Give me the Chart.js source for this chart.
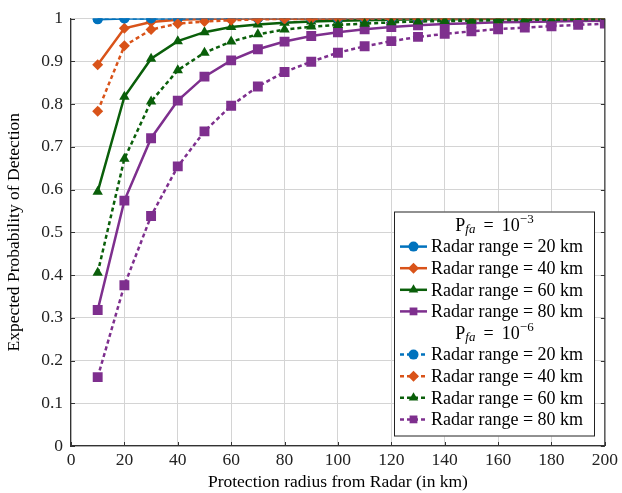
<!DOCTYPE html>
<html>
<head>
<meta charset="utf-8">
<script src="https://cdn.jsdelivr.net/npm/chart.js@4"></script>
<style>
  html, body { margin: 0; padding: 0; background: #fff; }
  #wrap { width: 622px; height: 493px; }
</style>
</head>
<body>
<div id="wrap"><canvas id="chart"></canvas></div>
<script>
// Protection radius (km)
const radius = [10, 20, 30, 40, 50, 60, 70, 80, 90, 100, 110, 120, 130, 140, 150, 160, 170, 180, 190, 200];

// Pfa = 1e-3
const pfa3Range20 = [0.998, 1, 1, 1, 1, 1, 1, 1, 1, 1, 1, 1, 1, 1, 1, 1, 1, 1, 1, 1];
const pfa3Range40 = [0.892, 0.977, 0.992, 0.997, 0.999, 1, 1, 1, 1, 1, 1, 1, 1, 1, 1, 1, 1, 1, 1, 1];
const pfa3Range60 = [0.595, 0.817, 0.906, 0.947, 0.968, 0.980, 0.986, 0.990, 0.993, 0.995, 0.996, 0.997, 0.998, 0.998, 0.999, 0.999, 0.999, 1, 1, 1];
const pfa3Range80 = [0.318, 0.574, 0.720, 0.808, 0.864, 0.902, 0.928, 0.946, 0.959, 0.968, 0.975, 0.980, 0.984, 0.987, 0.989, 0.991, 0.992, 0.993, 0.994, 0.995];

// Pfa = 1e-6
const pfa6Range20 = [0.999, 1, 1, 1, 1, 1, 1, 1, 1, 1, 1, 1, 1, 1, 1, 1, 1, 1, 1, 1];
const pfa6Range40 = [0.783, 0.936, 0.974, 0.988, 0.993, 0.996, 0.998, 0.999, 0.999, 1, 1, 1, 1, 1, 1, 1, 1, 1, 1, 1];
const pfa6Range60 = [0.405, 0.672, 0.806, 0.879, 0.920, 0.946, 0.963, 0.974, 0.981, 0.985, 0.988, 0.991, 0.993, 0.994, 0.995, 0.996, 0.997, 0.997, 0.998, 0.998];
const pfa6Range80 = [0.161, 0.376, 0.538, 0.654, 0.736, 0.796, 0.841, 0.875, 0.899, 0.920, 0.935, 0.947, 0.957, 0.964, 0.970, 0.975, 0.979, 0.982, 0.985, 0.988];

const xTicks = [0, 20, 40, 60, 80, 100, 120, 140, 160, 180, 200];
const yTicks = [0, 0.1, 0.2, 0.3, 0.4, 0.5, 0.6, 0.7, 0.8, 0.9, 1];

const rangeLabels = ['Radar range = 20 km', 'Radar range = 40 km', 'Radar range = 60 km', 'Radar range = 80 km'];
const colors = ['#0072BD', '#D95319', '#0A5F0A', '#7E2F8E'];
const markers = [
    { style: 'circle', r: 5 },
    { style: 'rectRot', r: 5.5 },
    { style: 'triangle', r: 6 },
    { style: 'rect', r: 7 }
];
const DASH = [4, 3];
const FONT = '"Liberation Serif", "Times New Roman", serif';

function toPoints(values) {
    return radius.map((x, i) => ({ x: x, y: values[i] }));
}

const groups = [
    { dash: [], series: [pfa3Range20, pfa3Range40, pfa3Range60, pfa3Range80] },
    { dash: DASH, series: [pfa6Range20, pfa6Range40, pfa6Range60, pfa6Range80] }
];

const datasets = [];
groups.forEach(g => {
    g.series.forEach((values, k) => {
        datasets.push({
            label: rangeLabels[k],
            data: toPoints(values),
            borderColor: colors[k],
            backgroundColor: colors[k],
            borderWidth: 2.5,
            borderDash: g.dash,
            pointStyle: markers[k].style,
            pointRadius: markers[k].r,
            pointBorderWidth: 0,
            pointHoverRadius: markers[k].r,
            tension: 0,
            fill: false
        });
    });
});
// later series drawn on top
datasets.forEach((d, i) => { d.order = datasets.length - i; });

// Draws inward ticks and the right frame edge
const frameTicks = {
    id: 'frameTicks',
    afterDatasetsDraw(chart) {
        const { ctx, chartArea: a, scales } = chart;
        ctx.save();
        ctx.strokeStyle = '#333';
        ctx.lineWidth = 1.2;
        ctx.beginPath();
        ctx.moveTo(a.right, a.top);
        ctx.lineTo(a.right, a.bottom);
        ctx.stroke();
        ctx.lineWidth = 1;
        ctx.beginPath();
        xTicks.forEach(v => {
            const px = Math.round(scales.x.getPixelForValue(v)) + 0.5;
            ctx.moveTo(px, a.bottom); ctx.lineTo(px, a.bottom - 4);
        });
        yTicks.forEach(v => {
            const py = Math.round(scales.y.getPixelForValue(v)) + 0.5;
            ctx.moveTo(a.left, py); ctx.lineTo(a.left + 4, py);
            ctx.moveTo(a.right, py); ctx.lineTo(a.right - 4, py);
        });
        ctx.stroke();
        ctx.restore();
    }
};

// Legend with two headed groups
const groupLegend = {
    id: 'groupLegend',
    afterDraw(chart) {
        const { ctx } = chart;
        const box = { left: 394, top: 211.5, right: 595, bottom: 436.5 };
        const rowH = 21.6;
        ctx.save();
        ctx.fillStyle = '#fff';
        ctx.fillRect(box.left, box.top, box.right - box.left, box.bottom - box.top);
        ctx.strokeStyle = '#222';
        ctx.lineWidth = 1;
        ctx.strokeRect(box.left + 0.5, box.top + 0.5, box.right - box.left - 1, box.bottom - box.top - 1);

        const cx = (box.left + box.right) / 2;
        let y = box.top + 13.5;
        groups.forEach((g, gi) => {
            drawHeader(ctx, cx, y, gi === 0 ? '\u22123' : '\u22126');
            y += rowH;
            g.series.forEach((s, k) => {
                ctx.save();
                ctx.strokeStyle = colors[k];
                ctx.fillStyle = colors[k];
                ctx.lineWidth = 2.5;
                ctx.setLineDash(g.dash);
                ctx.beginPath();
                ctx.moveTo(400, y); ctx.lineTo(427, y);
                ctx.stroke();
                ctx.setLineDash([]);
                Chart.helpers.drawPoint(ctx, {
                    pointStyle: markers[k].style,
                    radius: Math.min(markers[k].r, 5.5),
                    borderWidth: 0,
                    rotation: 0
                }, 413.5, y);
                ctx.restore();
                ctx.fillStyle = '#000';
                ctx.font = '18px ' + FONT;
                ctx.textBaseline = 'middle';
                ctx.textAlign = 'left';
                ctx.fillText(rangeLabels[k], 431, y + 1);
                y += rowH;
            });
        });
        ctx.restore();
    }
};

function drawHeader(ctx, cx, y, exp) {
    const parts = [
        { t: 'P', f: '18px ' + FONT, dy: 0 },
        { t: 'fa', f: 'italic 13px ' + FONT, dy: 4 },
        { t: ' \u2009=\u2009 10', f: '18px ' + FONT, dy: 0 },
        { t: exp, f: '13px ' + FONT, dy: -6 }
    ];
    let total = 0;
    parts.forEach(p => { ctx.font = p.f; p.w = ctx.measureText(p.t).width; total += p.w; });
    let x = cx - total / 2;
    ctx.fillStyle = '#000';
    ctx.textBaseline = 'middle';
    ctx.textAlign = 'left';
    parts.forEach(p => {
        ctx.font = p.f;
        ctx.fillText(p.t, x, y + 1 + p.dy);
        x += p.w;
    });
}

const ctx = document.getElementById('chart').getContext('2d');
new Chart(ctx, {
    type: 'line',
    data: { datasets: datasets },
    options: {
        responsive: true,
        maintainAspectRatio: false,
        animation: false,
        events: [],
        layout: { padding: { left: 0, right: 13, top: 15, bottom: 0 } },
        plugins: {
            legend: { display: false },
            tooltip: { enabled: false }
        },
        scales: {
            x: {
                type: 'linear',
                min: 0,
                max: 200,
                afterFit: scale => { scale.height = 47; },
                afterBuildTicks: scale => { scale.ticks = xTicks.map(v => ({ value: v })); },
                ticks: {
                    color: '#222',
                    font: { family: FONT, size: 17.5 },
                    padding: 4,
                    maxRotation: 0
                },
                grid: { color: '#d4d4d4', lineWidth: 1, drawTicks: false },
                border: { color: '#333', width: 1.2 },
                title: {
                    display: true,
                    text: 'Protection radius from Radar (in km)',
                    color: '#000',
                    font: { family: FONT, size: 17.5 },
                    padding: 0
                }
            },
            y: {
                type: 'linear',
                min: 0,
                max: 1,
                afterFit: scale => { scale.width = 71; },
                afterBuildTicks: scale => { scale.ticks = yTicks.map(v => ({ value: v })); },
                ticks: {
                    color: '#222',
                    font: { family: FONT, size: 17.5 },
                    padding: 8,
                    callback: v => (v === 0 || v === 1) ? String(v) : v.toFixed(1)
                },
                grid: { color: '#d4d4d4', lineWidth: 1, drawTicks: false },
                border: { color: '#333', width: 1.2 },
                title: {
                    display: true,
                    text: 'Expected Probability of Detection',
                    color: '#000',
                    font: { family: FONT, size: 17.5 },
                    padding: { top: 4, bottom: 0 }
                }
            }
        }
    },
    plugins: [frameTicks, groupLegend]
});
</script>
</body>
</html>
